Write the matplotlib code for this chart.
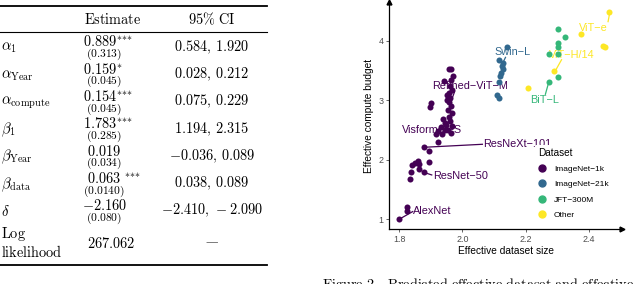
import matplotlib
matplotlib.use("Agg")
import matplotlib.pyplot as plt
from matplotlib.lines import Line2D

plt.rcParams['mathtext.fontset'] = 'cm'
plt.rcParams['font.family'] = ['Liberation Sans', 'DejaVu Sans']

# ---- table data ----
row_labels = [r'\alpha_1', r'\alpha_{\mathrm{Year}}', r'\alpha_{\mathrm{compute}}',
              r'\beta_1', r'\beta_{\mathrm{Year}}', r'\beta_{\mathrm{data}}', r'\delta']
estimates = ['0.889', '0.159', '0.154', '1.783', '0.019', '0.063', '-2.160']
stars = ['^{{*}{*}{*}}', '^{{*}}', '^{{*}{*}{*}}', '^{{*}{*}{*}}', '', r'\ ^{{*}{*}{*}}', '']
std_errors = ['0.313', '0.045', '0.045', '0.285', '0.034', '0.0140', '0.080']
ci_low = ['0.584', '0.028', '0.075', '1.194', '-0.036', '0.038', '-2.410']
ci_high = ['1.920', '0.212', '0.229', '2.315', '0.089', '0.089', '-2.090']
log_likelihood = '267.062'

# ---- scatter data (effective dataset size, effective compute budget) ----
in1k_x = [1.800, 1.824, 1.824, 1.835, 1.838, 1.842, 1.851, 1.861, 1.862, 1.862,
          1.877, 1.895, 1.895, 1.879, 1.924, 1.901, 1.898,
          1.956, 1.964, 1.970, 1.942, 1.964, 1.961, 1.967, 1.952, 1.961, 1.958,
          1.964, 1.955, 1.967, 1.958, 1.961, 1.948, 1.939, 1.933, 1.945, 1.924,
          1.917, 1.936, 1.955, 1.967, 1.964, 1.958, 1.950, 1.944]
in1k_y = [1.00, 1.14, 1.21, 1.68, 1.79, 1.92, 1.94, 1.985, 1.93, 1.845,
          1.79, 1.96, 2.14, 2.21, 2.29, 2.96, 2.89,
          3.52, 3.52, 3.41, 3.32, 3.34, 3.24, 3.17, 3.09, 3.04, 2.97,
          2.90, 2.84, 2.79, 2.72, 2.65, 2.58, 2.68, 2.55, 2.50, 2.48,
          2.43, 2.43, 2.50, 2.57, 2.45, 3.12, 3.00, 2.62]
in21k_x = [2.140, 2.117, 2.127, 2.124, 2.127, 2.121, 2.118, 2.114, 2.108, 2.114]
in21k_y = [3.89, 3.68, 3.62, 3.58, 3.53, 3.46, 3.40, 3.31, 3.09, 3.04]
jft_x = [2.301, 2.325, 2.301, 2.301, 2.272, 2.301, 2.301, 2.274]
jft_y = [4.20, 4.07, 3.96, 3.90, 3.77, 3.77, 3.39, 3.31]
other_x = [2.464, 2.375, 2.445, 2.450, 2.290, 2.208]
other_y = [4.49, 4.11, 3.91, 3.90, 3.49, 3.20]

datasets = ['ImageNet\u22121k', 'ImageNet\u221221k', 'JFT\u2212300M', 'Other']
colors = ['#440154', '#31688E', '#35B779', '#FDE725']

# model labels: text, label position, segment start (point), segment end
model_names = ['AlexNet', 'ResNet\u221250', 'ResNeXt\u2212101', 'Visformer\u2212S',
               'Refined\u2212ViT\u2212M', 'Swin\u2212L', 'BiT\u2212L', 'ViT\u2212H/14', 'ViT\u2212e']
model_group = [0, 0, 0, 0, 0, 1, 2, 3, 3]
label_x = [1.845, 1.908, 2.066, 1.808, 2.024, 2.158, 2.258, 2.346, 2.414]
label_y = [1.145, 1.728, 2.265, 2.50, 3.24, 3.81, 3.00, 3.76, 4.22]
label_ha = ['left', 'left', 'left', 'left', 'center', 'center', 'center', 'center', 'center']
seg_x0 = [1.800, 1.877, 1.880, None, 1.966, 2.125, 2.273, 2.293, 2.466]
seg_y0 = [1.00, 1.79, 2.21, None, 3.01, 3.60, 3.31, 3.49, 4.49]
seg_x1 = [1.843, 1.903, 2.063, None, 1.975, 2.136, 2.262, 2.313, 2.460]
seg_y1 = [1.13, 1.745, 2.26, None, 3.14, 3.72, 3.10, 3.68, 4.32]

W, H = 640, 284
fig = plt.figure(figsize=(W / 100, H / 100), dpi=100)


def fx(px):
    return px / W


def fy(py):
    return 1 - py / H


def rm(s):
    # LaTeX-like roman text via mathtext
    return r'$\mathrm{' + s.replace(' ', r'\ ') + '}$'


# ---- table ----
for y, lw in [(6, 1.3), (32, 0.8), (265, 1.3)]:
    fig.add_artist(Line2D([fx(0), fx(267)], [fy(y), fy(y)], color='black', lw=lw))

fig.text(fx(113), fy(19), rm('Estimate'), ha='center', va='center', fontsize=10.3)
fig.text(fx(212), fy(19), r'$95\%\ \mathrm{CI}$', ha='center', va='center', fontsize=10.3)

est_left = [83, 83, 83, 83, 87, 87, 82]
for i in range(len(row_labels)):
    y0 = 42 + 27.3 * i
    fig.text(fx(1), fy(y0 + 6), '$' + row_labels[i] + '$', ha='left', va='center', fontsize=10.6)
    fig.text(fx(est_left[i]), fy(y0), '$' + estimates[i] + stars[i] + '$',
             ha='left', va='center', fontsize=10.3)
    fig.text(fx(104), fy(y0 + 12.5), '$(' + std_errors[i] + ')$', ha='center', va='center', fontsize=8.3)
    fig.text(fx(212), fy(y0 + 5), '$' + ci_low[i] + r',\,' + ci_high[i] + '$',
             ha='center', va='center', fontsize=10.3)

fig.text(fx(1), fy(234), rm('Log'), ha='left', va='center', fontsize=10.3)
fig.text(fx(1), fy(252), rm('likelihood'), ha='left', va='center', fontsize=10.3)
fig.text(fx(111.5), fy(243), '$' + log_likelihood + '$', ha='center', va='center', fontsize=10.3)
fig.text(fx(212), fy(243), '\u2014', ha='center', va='center', fontsize=9, family='DejaVu Serif',
         color='#555555')

# caption (cut off by the page crop)
fig.text(fx(322), fy(288), r'$\mathrm{Figure\ 2.\ \ Predicted\ effective\ dataset\ and\ effective}$',
         ha='left', va='baseline', fontsize=10.2)

# ---- scatter ----
ax = fig.add_axes([fx(389), fy(229), fx(622 - 389), (229 - 2) / H])
ax.set_xlim(1.768, 2.504)
ax.set_ylim(0.837, 4.65)

groups_x = [in1k_x, in21k_x, jft_x, other_x]
groups_y = [in1k_y, in21k_y, jft_y, other_y]
for gx, gy, c in zip(groups_x, groups_y, colors):
    ax.scatter(gx, gy, s=19, color=c, linewidths=0, zorder=3)

for i, name in enumerate(model_names):
    c = colors[model_group[i]]
    ax.text(label_x[i], label_y[i], name, color=c, ha=label_ha[i], va='center',
            fontsize=7.8, zorder=2)
    if seg_x0[i] is not None:
        ax.plot([seg_x0[i], seg_x1[i]], [seg_y0[i], seg_y1[i]], color=c, lw=0.9, zorder=2)

for side in ['top', 'right']:
    ax.spines[side].set_visible(False)
for side in ['left', 'bottom']:
    ax.spines[side].set_linewidth(0.9)
ax.plot(1, 0, '>', color='black', ms=3.5, transform=ax.transAxes, clip_on=False)
ax.plot(0, 1, '^', color='black', ms=3.5, transform=ax.transAxes, clip_on=False)

ax.set_xticks([1.8, 2.0, 2.2, 2.4])
ax.set_xticklabels(['1.8', '2.0', '2.2', '2.4'])
ax.set_yticks([1, 2, 3, 4])
ax.set_yticklabels(['1', '2', '3', '4'])
ax.tick_params(labelsize=6.4, colors='#4D4D4D', length=2, width=0.6, pad=2)
ax.set_xlabel('Effective dataset size', fontsize=7.3, labelpad=2)
ax.set_ylabel('Effective compute budget', fontsize=7.3, labelpad=3)

handles = [Line2D([], [], marker='o', ls='', color=c, ms=5) for c in colors]
leg = ax.legend(handles, datasets, title='Dataset', loc='upper left',
                bbox_to_anchor=(0.61, 0.39), fontsize=6.0, title_fontsize=7.2,
                frameon=True, facecolor='white', edgecolor='none', framealpha=1,
                handlelength=1.0, handletextpad=0.9, labelspacing=0.9,
                borderpad=0.35, alignment='left')
leg.set_zorder(5)

fig.savefig('out.png', dpi=100)
